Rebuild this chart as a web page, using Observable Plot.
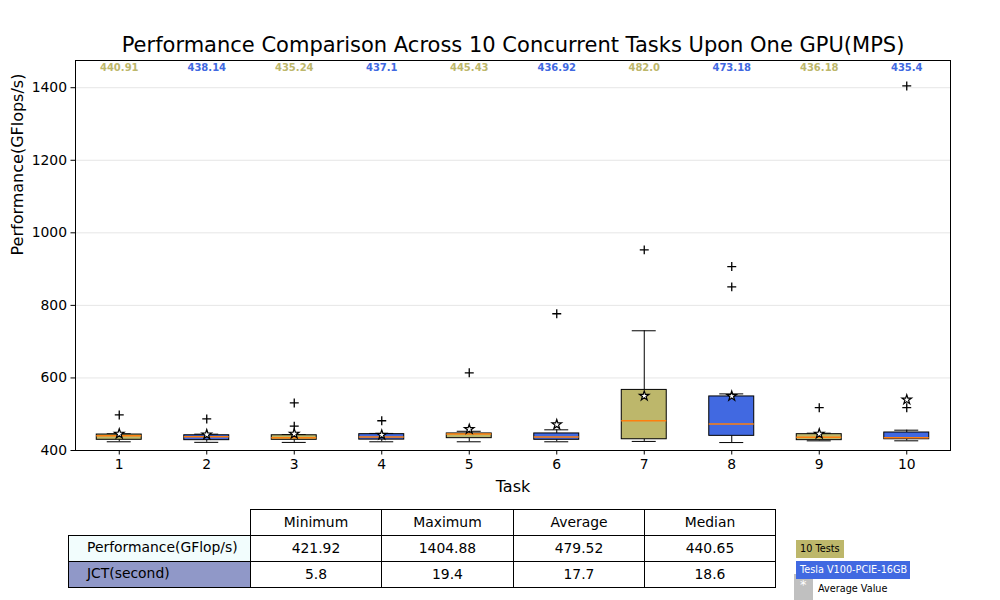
<!DOCTYPE html>
<html>
<head>
<meta charset="utf-8">
<script src="https://cdn.jsdelivr.net/npm/d3@7"></script>
<script src="https://cdn.jsdelivr.net/npm/@observablehq/plot@0.6"></script>
<style>
  html, body { margin: 0; padding: 0; background: white; }
  #wrap { position: relative; width: 1000px; height: 600px; overflow: hidden; font-family: "DejaVu Sans", sans-serif; }
  #chart { position: absolute; left: 0; top: 0; }
  table.stats { position: absolute; left: 68px; top: 509px; border-collapse: collapse; table-layout: fixed; font-size: 13.9px; }
  table.stats td { border: 1px solid black; height: 23px; padding: 0 0 2px 0; text-align: center; vertical-align: middle; line-height: 14px; }
  table.stats td.empty { border: none; }
  table.stats td.rowlab { text-align: left; padding-left: 18px; height: 22px; padding-bottom: 3px; }
  .leg { position: absolute; font-size: 9.7px; line-height: 18px; white-space: nowrap; box-sizing: border-box; }
</style>
</head>
<body>
<div id="wrap">
  <div id="chart"></div>
</div>
<script>
// ---- data ----
const tasks = [1, 2, 3, 4, 5, 6, 7, 8, 9, 10];
const medians = [440.91, 438.14, 435.24, 437.1, 445.43, 436.92, 482.0, 473.18, 436.18, 435.4];
const q1 = [429.5, 428.5, 429.5, 430, 434, 429.5, 431, 440.4, 428.5, 431];
const q3 = [444, 442, 442, 445, 447, 447, 567, 549, 445, 449.6];
const whiskerLow = [424, 422.5, 422.3, 424, 424, 424, 425, 421.92, 426.6, 426.7];
const whiskerHigh = [446, 445, 444, 447, 453, 457, 730, 556, 447.7, 456];
const means = [446, 444, 446, 443, 458.7, 471.6, 550.6, 550, 446, 540];
const outlierTask = [1, 2, 3, 3, 4, 5, 6, 7, 8, 8, 9, 10, 10];
const outlierValue = [498, 487, 531, 467, 482, 614, 777, 953, 907, 851, 518, 518, 1404.88];
const yTicks = [400, 600, 800, 1000, 1200, 1400];

const tableColumns = ["Minimum", "Maximum", "Average", "Median"];
const rowLabels = ["Performance(GFlop/s)", "JCT(second)"];
const perfRow = [421.92, 1404.88, 479.52, 440.65];
const jctRow = [5.8, 19.4, 17.7, 18.6];

const legendLabels = ["10 Tests", "Tesla V100-PCIE-16GB", "Average Value"];

const OLIVE = "#bdb76b", BLUE = "#4169e1", ORANGE = "#ff7f0e";

// ---- build ----
const stats = tasks.map((t, i) => ({
  task: t, median: medians[i], q1: q1[i], q3: q3[i],
  lo: whiskerLow[i], hi: whiskerHigh[i], mean: means[i]
}));
const outliers = outlierTask.map((t, i) => ({task: t, value: outlierValue[i]}));
const colorOf = d => (d.task % 2 ? OLIVE : BLUE);
const fmt = v => (Number.isInteger(v) ? v.toFixed(1) : String(v));
const BW = 0.257, CW = 0.137;

const chart = Plot.plot({
  width: 1000,
  height: 600,
  marginLeft: 75,
  marginRight: 50,
  marginTop: 60,
  marginBottom: 150,
  style: {fontFamily: "DejaVu Sans, sans-serif", fontSize: "13.9px", background: "white", color: "black"},
  x: {type: "linear", domain: [0.5, 10.5], label: null},
  y: {domain: [400, 1475], label: null},
  marks: [
    Plot.gridY(yTicks, {stroke: "#e6e6e6", strokeOpacity: 1}),
    Plot.ruleX(stats, {x: "task", y1: "lo", y2: "q1", stroke: "black"}),
    Plot.ruleX(stats, {x: "task", y1: "q3", y2: "hi", stroke: "black"}),
    Plot.ruleY(stats, {y: "lo", x1: d => d.task - CW, x2: d => d.task + CW, stroke: "black"}),
    Plot.ruleY(stats, {y: "hi", x1: d => d.task - CW, x2: d => d.task + CW, stroke: "black"}),
    Plot.rect(stats, {x1: d => d.task - BW, x2: d => d.task + BW, y1: "q1", y2: "q3", fill: colorOf, stroke: "black", strokeWidth: 1}),
    Plot.ruleY(stats, {y: "median", x1: d => d.task - BW, x2: d => d.task + BW, stroke: ORANGE, strokeWidth: 1.5}),
    Plot.dot(outliers, {x: "task", y: "value", symbol: "plus", stroke: "black", r: 3, strokeWidth: 1.3}),
    Plot.dot(stats, {x: "task", y: "mean", symbol: "star", fill: "white", stroke: "black", r: 3, strokeWidth: 1.2}),
    Plot.text(stats, {x: "task", frameAnchor: "top", dy: 7, lineAnchor: "middle", text: d => fmt(d.median), fill: colorOf, fontWeight: "bold", fontSize: 10}),
    Plot.axisX({ticks: tasks, tickFormat: d => String(d), tickSize: 4.5, tickPadding: 4, label: null}),
    Plot.axisY({ticks: yTicks, tickFormat: d => String(d), tickSize: 4.5, tickPadding: 4, label: null}),
    Plot.frame({stroke: "black", strokeWidth: 1}),
    Plot.text(["Performance Comparison Across 10 Concurrent Tasks Upon One GPU(MPS)"], {frameAnchor: "top", dy: -15, lineAnchor: "middle", text: d => d, fontSize: 21, fill: "black"}),
    Plot.text(["Task"], {frameAnchor: "bottom", dy: 36, lineAnchor: "middle", text: d => d, fontSize: 16, fill: "black"}),
    Plot.text(["Performance(GFlops/s)"], {frameAnchor: "left", dx: -58, rotate: -90, text: d => d, fontSize: 16, fill: "black"})
  ]
});
document.getElementById("chart").appendChild(chart);

// ---- table ----
const wrap = document.getElementById("wrap");
const colWidths = [182, 131, 132, 131, 131];
const table = document.createElement("table");
table.className = "stats";
const cg = document.createElement("colgroup");
colWidths.forEach(w => { const c = document.createElement("col"); c.style.width = w + "px"; cg.appendChild(c); });
table.appendChild(cg);
const mkRow = (label, values, labelBg) => {
  const tr = document.createElement("tr");
  const th = document.createElement("td");
  if (label === null) { th.className = "empty"; }
  else { th.className = "rowlab"; th.textContent = label; th.style.background = labelBg; }
  tr.appendChild(th);
  values.forEach(v => {
    const td = document.createElement("td");
    td.textContent = String(v);
    tr.appendChild(td);
  });
  table.appendChild(tr);
};
mkRow(null, tableColumns, null);
mkRow(rowLabels[0], perfRow, "#f2fdfd");
mkRow(rowLabels[1], jctRow, "#9098c8");
wrap.appendChild(table);

// ---- legend ----
const addLeg = (text, left, top, h, bg, color, padL, padR) => {
  const d = document.createElement("div");
  d.className = "leg";
  Object.assign(d.style, {left: left + "px", top: top + "px", height: h + "px", background: bg, color: color, paddingLeft: padL + "px", paddingRight: padR + "px"});
  d.textContent = text;
  wrap.appendChild(d);
  return d;
};
// grey average-value swatch (behind)
const g = addLeg("*", 794, 574, 30, "#c0c0c0", "white", 6, 6);
g.style.fontSize = "13px"; g.style.lineHeight = "22px"; g.style.width = "19px";
addLeg(legendLabels[2], 818, 580, 18, "transparent", "black", 0, 0);
addLeg(legendLabels[0], 796, 540, 18, OLIVE, "black", 4, 4);
addLeg(legendLabels[1], 796, 561, 18, BLUE, "white", 4, 3);
</script>
</body>
</html>
